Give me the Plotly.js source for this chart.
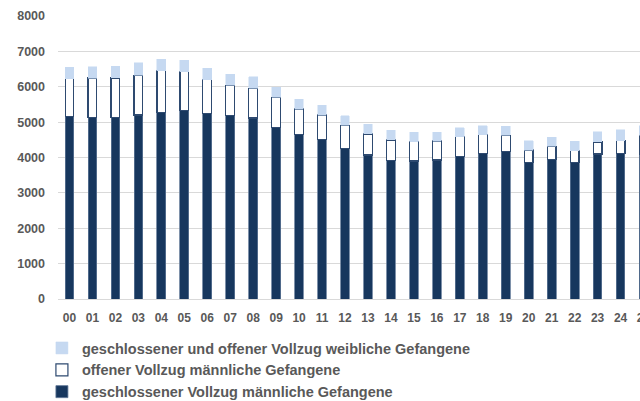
<!DOCTYPE html>
<html>
<head>
<meta charset="utf-8">
<script src="https://cdn.plot.ly/plotly-3.0.1.min.js"></script>
<style>
html, body { margin: 0; padding: 0; overflow: hidden; background: #ffffff; }
#chart { width: 655px; height: 401px; }
</style>
</head>
<body>
<div id="chart"></div>
<script>
const years = ["00","01","02","03","04","05","06","07","08","09","10","11","12","13","14","15","16","17","18","19","20","21","22","23","24","25"];
const geschlossenMaennlich = [5150,5135,5125,5200,5265,5340,5255,5190,5115,4850,4655,4520,4265,4070,3905,3900,3930,4030,4105,4160,3865,3940,3865,4100,4105,4080];
const offenMaennlich = [1075,1110,1125,1125,1185,1080,950,850,845,850,715,680,645,595,590,550,535,555,540,465,345,380,330,340,370,550];
const weiblich = [330,320,330,360,330,330,320,320,320,280,275,275,265,275,275,270,255,260,255,255,260,250,265,295,315,270];

const nameGeschlossen = "geschlossener Vollzug männliche Gefangene";
const nameOffen = "offener Vollzug männliche Gefangene";
const nameWeiblich = "geschlossener und offener Vollzug weibliche Gefangene";

const textColor = "#595959";
const fontFam = "'Liberation Sans', Arial, sans-serif";

const traces = [
  {
    type: "bar", name: nameGeschlossen, x: years, y: geschlossenMaennlich,
    marker: { color: "#17375E", line: { color: "#5E7695", width: 0.8 } }
  },
  {
    type: "bar", name: nameOffen, x: years, y: offenMaennlich,
    marker: { color: "#FFFFFF", line: { color: "#2E4A70", width: 1.2 } }
  },
  {
    type: "bar", name: nameWeiblich, x: years, y: weiblich,
    marker: { color: "#C6D9F1", line: { color: "#C6D9F1", width: 0.5 } }
  }
];

const layout = {
  width: 655, height: 401,
  margin: { l: 58, r: 0, t: 16, b: 102, autoexpand: false },
  barmode: "stack",
  bargap: 0.62,
  paper_bgcolor: "#ffffff",
  plot_bgcolor: "#ffffff",
  font: { family: fontFam, color: textColor, size: 12.5 },
  showlegend: true,
  legend: {
    xref: "container", yref: "container",
    x: 0.064, y: 0.172, xanchor: "left", yanchor: "top",
    orientation: "v", traceorder: "reversed",
    font: { family: fontFam, size: 14.5, color: textColor, weight: "bold" },
    bgcolor: "rgba(0,0,0,0)",
    itemwidth: 30
  },
  xaxis: {
    type: "category",
    range: [-0.5, 25.5],
    tickmode: "linear", dtick: 1,
    showgrid: false, zeroline: false, showline: false,
    ticks: "", ticklabelstandoff: 10,
    tickfont: { family: fontFam, size: 12, color: textColor, weight: "bold" },
    fixedrange: true
  },
  yaxis: {
    range: [0, 8000],
    tickvals: [0,1000,2000,3000,4000,5000,6000,7000,8000],
    ticktext: ["0","1000","2000","3000","4000","5000","6000","7000","8000"],
    showgrid: true, gridcolor: "#D9D9D9", gridwidth: 1,
    zeroline: true, zerolinecolor: "#D9D9D9", zerolinewidth: 1,
    showline: false, ticks: "", ticklabelstandoff: 12,
    tickfont: { family: fontFam, size: 12.5, color: textColor, weight: "bold" },
    fixedrange: true
  }
};

Plotly.newPlot("chart", traces, layout, { displayModeBar: false, staticPlot: true });
</script>
</body>
</html>
